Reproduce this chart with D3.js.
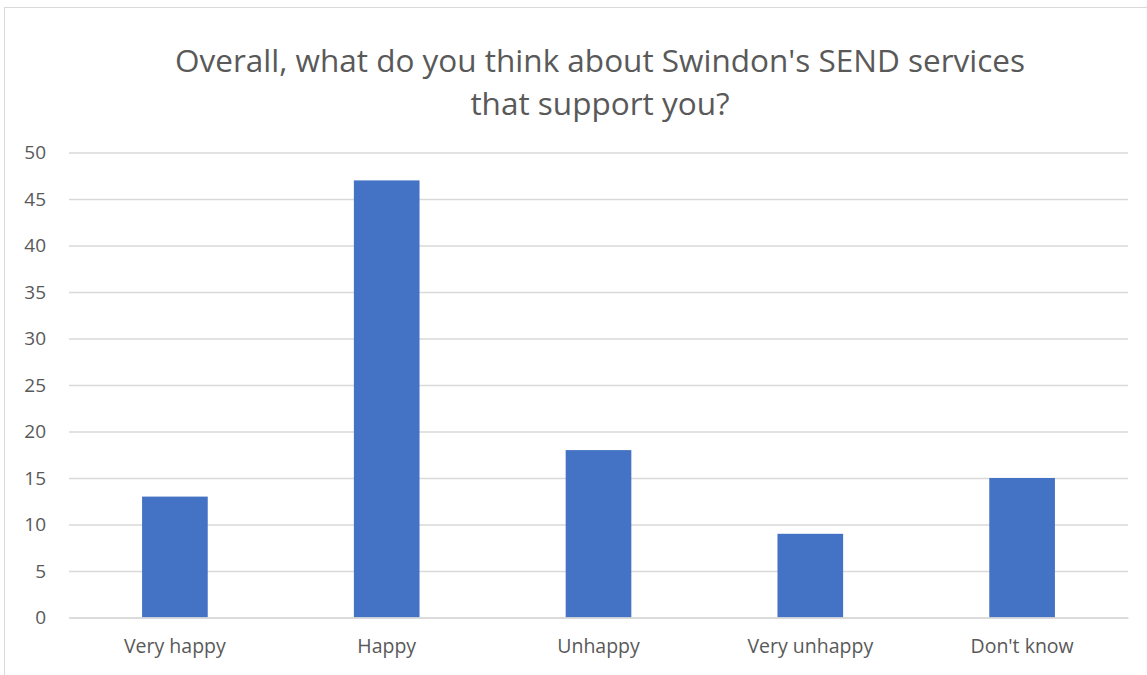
<!DOCTYPE html>
<html>
<head>
<meta charset="utf-8">
<script src="https://cdn.jsdelivr.net/npm/d3@7"></script>
<style>
  body { margin: 0; background: #fff; }
  svg { display: block; font-family: "Open Sans", "Noto Sans", sans-serif; }
</style>
</head>
<body>
<svg id="chart"></svg>
<script>
// survey answers
const categories = ['Very happy', 'Happy', 'Unhappy', 'Very unhappy', "Don't know"];
const counts = [13, 47, 18, 9, 15];
const yTicks = [0, 5, 10, 15, 20, 25, 30, 35, 40, 45, 50];
const titleLines = ["Overall, what do you think about Swindon's SEND services", 'that support you?'];

const width = 1147, height = 675;
const svg = d3.select('#chart')
    .attr('width', width)
    .attr('height', height);

// chart frame
svg.append('rect')
    .attr('x', 4.5).attr('y', 7.5)
    .attr('width', 1150).attr('height', 700)
    .attr('fill', '#fff')
    .attr('stroke', '#d9d9d9');

svg.append('text')
    .attr('x', 600)
    .attr('y', 72)
    .attr('text-anchor', 'middle')
    .attr('fill', '#595959')
    .style('font-size', '31.5px')
    .selectAll('tspan')
    .data(titleLines)
    .enter().append('tspan')
    .attr('x', 600)
    .attr('dy', (d, i) => i === 0 ? 0 : 43)
    .text(d => d);

const xScale = d3.scaleBand()
    .domain(categories)
    .range([69, 1128])
    .paddingInner(0.69)
    .paddingOuter(0.345);

const yScale = d3.scaleLinear()
    .domain([0, 50])
    .range([617.5, 152.5]);

// gridlines
svg.append('g')
    .attr('transform', 'translate(69,0)')
    .call(d3.axisLeft(yScale).tickValues(yTicks).tickSize(-(1128 - 69)).tickFormat(''))
    .call(g => g.select('.domain').remove())
    .call(g => g.selectAll('line').attr('stroke', '#d9d9d9').attr('stroke-width', 1.3));

// y labels
svg.append('g')
    .attr('transform', 'translate(46,0)')
    .call(d3.axisLeft(yScale).tickValues(yTicks).tickSize(0).tickPadding(0))
    .call(g => g.select('.domain').remove())
    .call(g => g.selectAll('text')
        .attr('fill', '#595959')
        .style('font-family', '"Open Sans", "Noto Sans", sans-serif')
        .style('font-size', '19px'));

svg.selectAll('.bar')
    .data(categories)
    .enter().append('rect')
    .attr('class', 'bar')
    .attr('x', d => xScale(d))
    .attr('y', (d, i) => yScale(counts[i]))
    .attr('width', xScale.bandwidth())
    .attr('height', (d, i) => yScale(0) - yScale(counts[i]))
    .attr('fill', '#4472c4');

// x labels
svg.append('g')
    .attr('transform', 'translate(0,617.5)')
    .call(d3.axisBottom(xScale).tickSize(0).tickPadding(22))
    .call(g => g.select('.domain').attr('stroke', '#d9d9d9').attr('stroke-width', 1.3))
    .call(g => g.selectAll('text')
        .attr('fill', '#595959')
        .style('font-family', '"Open Sans", "Noto Sans", sans-serif')
        .style('font-size', '19.5px'));
</script>
</body>
</html>
